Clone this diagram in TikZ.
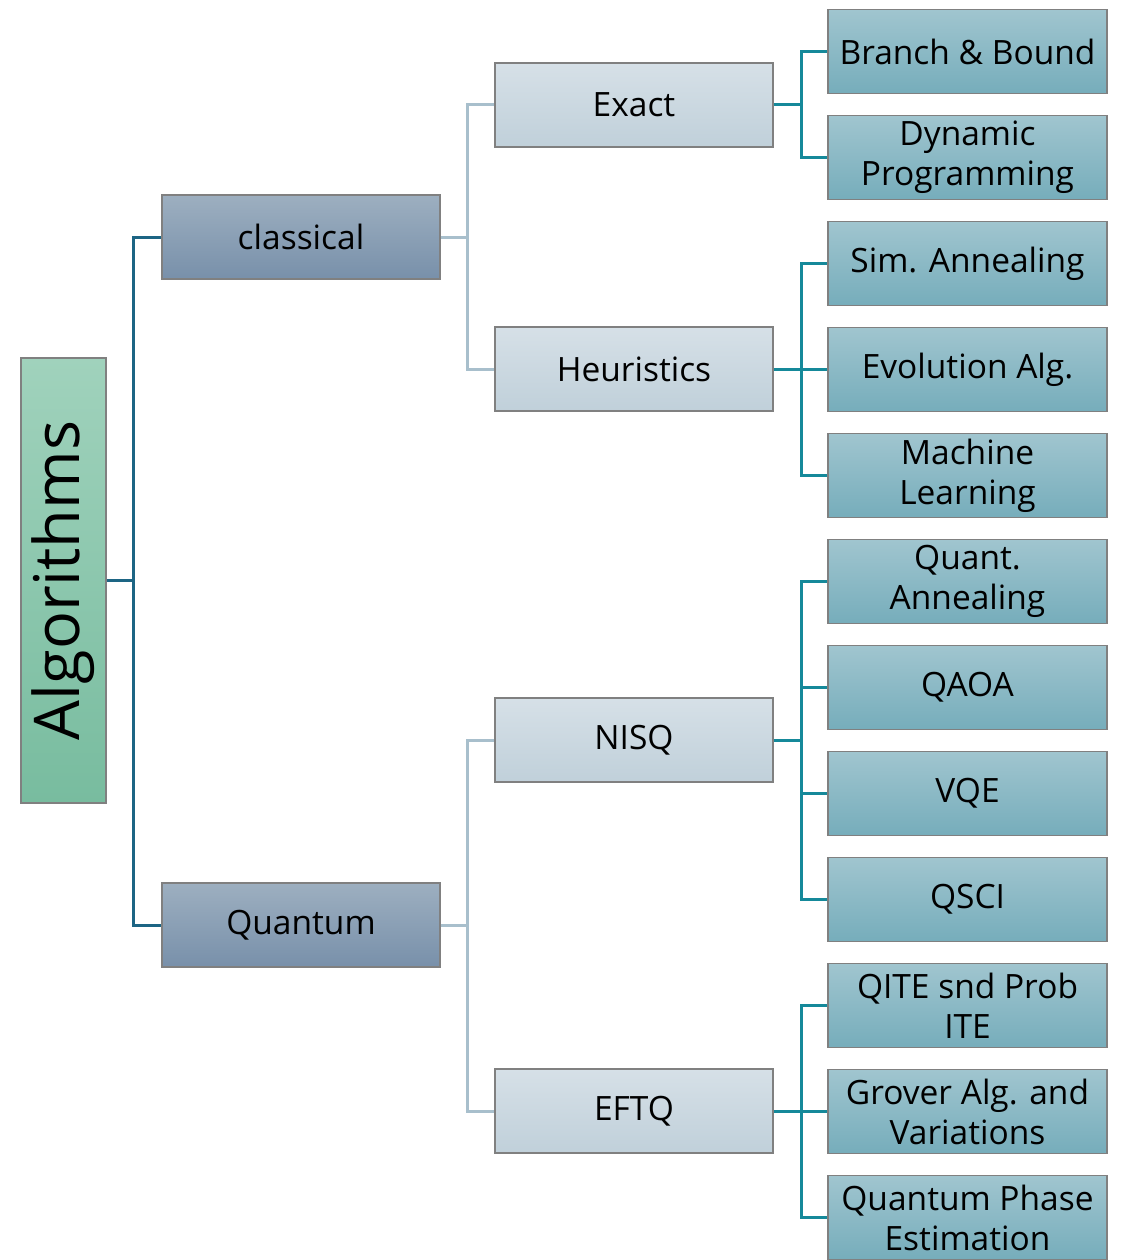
\documentclass[tikz,border=0pt]{standalone}
\usepackage{fontspec}
\setmainfont{Open Sans}
\begin{document}
\begin{tikzpicture}[x=1pt,y=1pt,
  box/.style={draw=boxgray,line width=1.3pt,align=center,inner sep=0pt,
    font=\fontsize{33.5}{40}\selectfont},
  rootbox/.style={box,top color=rootT,bottom color=rootB,minimum width=85pt,minimum height=445pt},
  lvlone/.style={box,top color=oneT,bottom color=oneB,minimum width=278pt,minimum height=84pt},
  lvltwo/.style={box,top color=twoT,bottom color=twoB,minimum width=278pt,minimum height=84pt},
  leaf/.style={box,top color=leafT,bottom color=leafB,minimum width=279pt,minimum height=84pt},
  linkA/.style={draw=lnA,line width=3pt},
  linkB/.style={draw=lnB,line width=3pt},
  linkC/.style={draw=lnC,line width=3pt}]
\definecolor{boxgray}{HTML}{808080}
\definecolor{rootT}{HTML}{A0D2BC}
\definecolor{rootB}{HTML}{78BC9F}
\definecolor{oneT}{HTML}{9DAFC0}
\definecolor{oneB}{HTML}{7890AA}
\definecolor{twoT}{HTML}{D6E0E7}
\definecolor{twoB}{HTML}{C0D0DA}
\definecolor{leafT}{HTML}{A0C5CF}
\definecolor{leafB}{HTML}{76ADBB}
\definecolor{lnA}{HTML}{1D6584}
\definecolor{lnB}{HTML}{A8BFCC}
\definecolor{lnC}{HTML}{15899A}

\useasboundingbox (0,0) rectangle (1120,-1260);

% root
\node[rootbox] (alg) at (63.5,-580.5) {};
\node[rotate=90,font=\fontsize{63}{66}\selectfont] (algtext) at (alg.center) {Algorithms};

% first level
\node[lvlone] (classical) at (301,-237) {classical};
\node[lvlone] (quantum) at (301,-925) {Quantum};

% second level
\node[lvltwo] (exact) at (634,-105) {Exact};
\node[lvltwo] (heur) at (634,-369) {Heuristics};
\node[lvltwo] (nisq) at (634,-740) {NISQ};
\node[lvltwo] (eftq) at (634,-1111) {EFTQ};

% leaves
\node[leaf] (bb)   at (967.5,-51.5)   {Branch \& Bound};
\node[leaf] (dp)   at (967.5,-157.5)  {Dynamic\\Programming};
\node[leaf] (sa)   at (967.5,-263.5)  {Sim. Annealing};
\node[leaf] (ea)   at (967.5,-369.5)  {Evolution Alg.};
\node[leaf] (ml)   at (967.5,-475.5)  {Machine\\Learning};
\node[leaf] (qa)   at (967.5,-581.5)  {Quant.\\Annealing};
\node[leaf] (qaoa) at (967.5,-687.5)  {QAOA};
\node[leaf] (vqe)  at (967.5,-793.5)  {VQE};
\node[leaf] (qsci) at (967.5,-899.5)  {QSCI};
\node[leaf] (qite) at (967.5,-1005.5) {QITE snd Prob\\ITE};
\node[leaf] (grov) at (967.5,-1111.5) {Grover Alg. and\\Variations};
\node[leaf] (qpe)  at (967.5,-1217.5) {Quantum Phase\\Estimation};

% forks
\coordinate (fA) at (133,-580.5);
\coordinate (fC) at (467,-237);
\coordinate (fQ) at (467,-925);
\coordinate (fE) at (801,-105);
\coordinate (fH) at (801,-369);
\coordinate (fN) at (801,-740);
\coordinate (fT) at (801,-1111);

% root -> first level
\draw[linkA] (alg.east) -- (fA);
\draw[linkA] (fA) |- (classical.west);
\draw[linkA] (fA) |- (quantum.west);

% first level -> second level
\draw[linkB] (classical.east) -- (fC);
\draw[linkB] (fC) |- (exact.west);
\draw[linkB] (fC) |- (heur.west);
\draw[linkB] (quantum.east) -- (fQ);
\draw[linkB] (fQ) |- (nisq.west);
\draw[linkB] (fQ) |- (eftq.west);

% second level -> leaves
\draw[linkC] (exact.east) -- (fE);
\draw[linkC] (fE) |- (bb.west);
\draw[linkC] (fE) |- (dp.west);
\draw[linkC] (heur.east) -- (fH);
\draw[linkC] (fH) |- (sa.west);
\draw[linkC] (fH) |- (ea.west);
\draw[linkC] (fH) |- (ml.west);
\draw[linkC] (nisq.east) -- (fN);
\draw[linkC] (fN) |- (qa.west);
\draw[linkC] (fN) |- (qaoa.west);
\draw[linkC] (fN) |- (vqe.west);
\draw[linkC] (fN) |- (qsci.west);
\draw[linkC] (eftq.east) -- (fT);
\draw[linkC] (fT) |- (qite.west);
\draw[linkC] (fT) |- (grov.west);
\draw[linkC] (fT) |- (qpe.west);
\end{tikzpicture}
\end{document}
